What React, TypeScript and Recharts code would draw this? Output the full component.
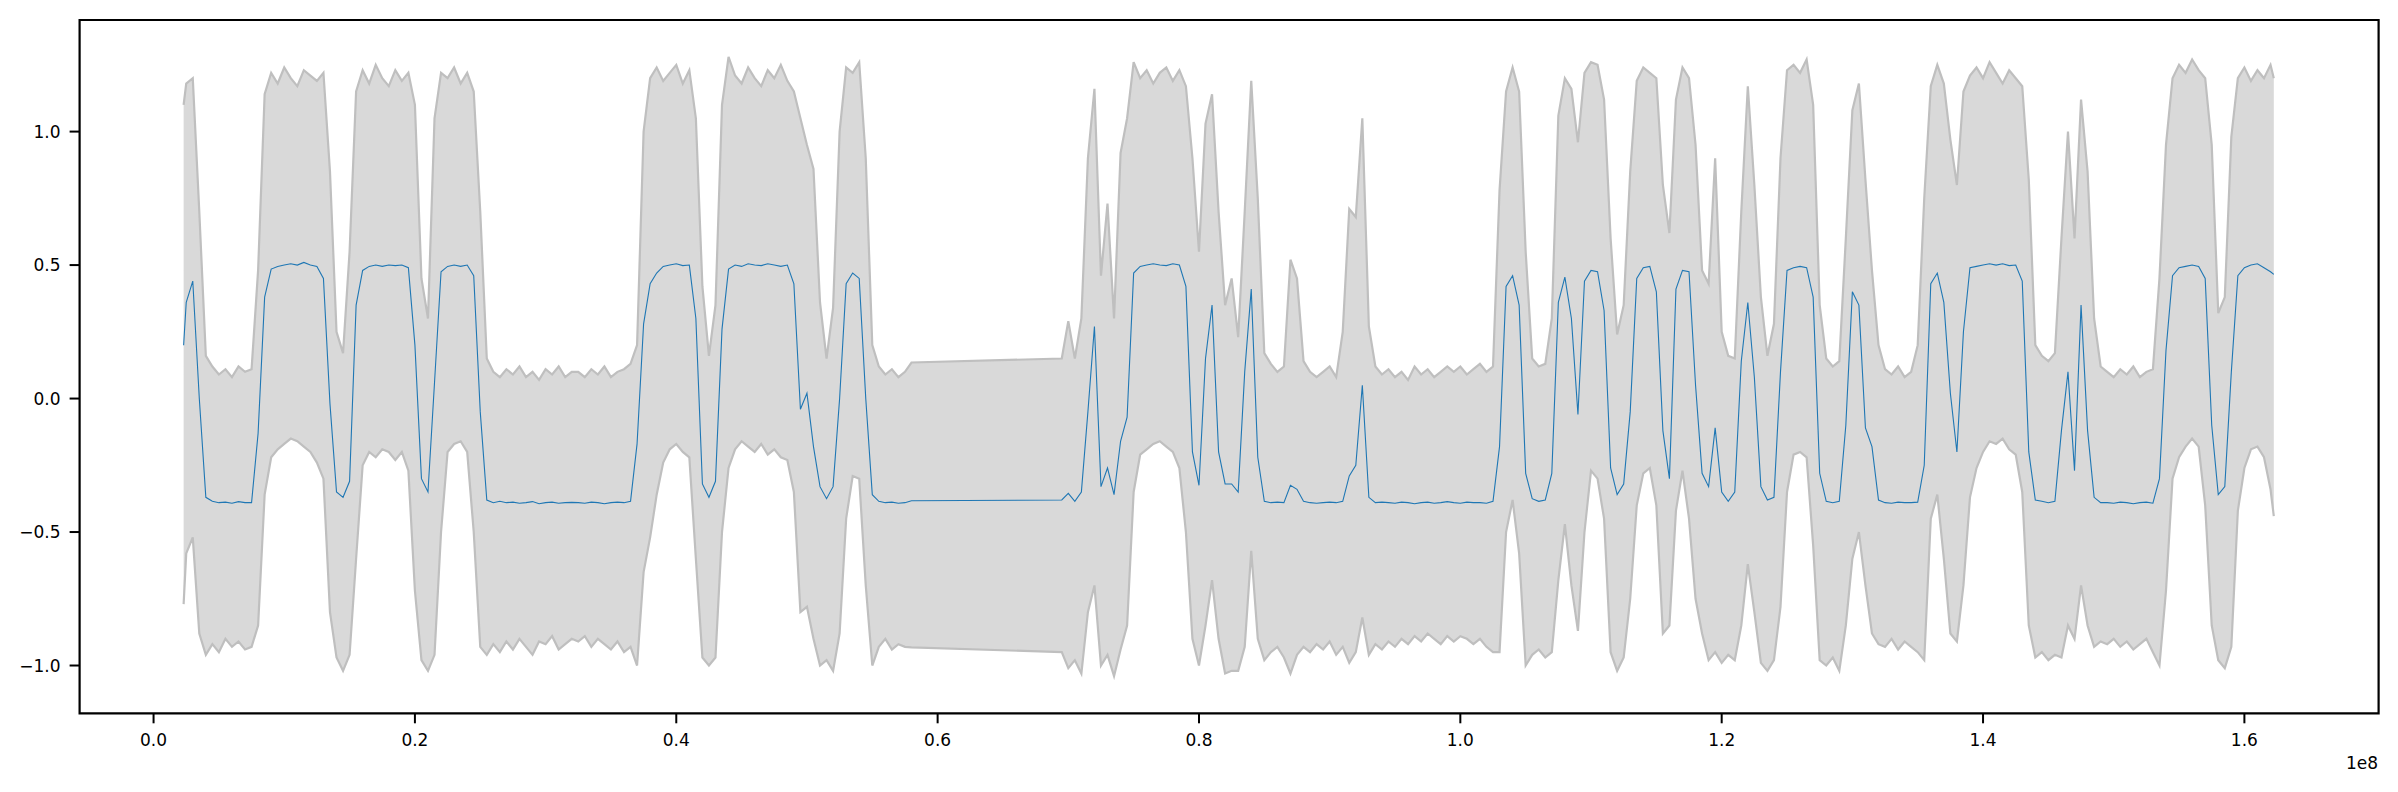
import {
  Area,
  ComposedChart,
  Line,
  ReferenceArea,
  XAxis,
  YAxis,
} from "recharts";

// x positions are in millions; each row holds samples every 0.5M from its start
const ROW_STARTS = [
  2.3, 2.5, 7.5, 12.5, 17.5, 22.5, 27.5, 32.5, 37.5, 42.5, 47.5, 52.5, 57.5,
  69.5, 74.5, 79.5, 84.5, 89.5, 94.5, 99.5, 104.5, 109.5, 114.5, 119.5, 124.5,
  129.5, 134.5, 139.5, 144.5, 149.5, 154.5, 159.5, 162.25,
];
const ROW_STEP = 0.5;

const MEAN = [
  [0.2],
  [0.36, 0.44, 0.0, -0.37, -0.385, -0.39, -0.388, -0.392, -0.386, -0.39],
  [-0.39, -0.13, 0.38, 0.485, 0.495, 0.5, 0.505, 0.5, 0.51, 0.5],
  [0.495, 0.45, -0.02, -0.35, -0.37, -0.31, 0.35, 0.48, 0.495, 0.5],
  [0.495, 0.5, 0.498, 0.5, 0.49, 0.2, -0.3, -0.35, 0.06, 0.475],
  [0.495, 0.5, 0.495, 0.5, 0.46, -0.05, -0.38, -0.39, -0.385, -0.39],
  [-0.388, -0.392, -0.39, -0.386, -0.394, -0.39, -0.388, -0.392, -0.39, -0.389],
  [-0.39, -0.392, -0.388, -0.39, -0.394, -0.39, -0.388, -0.39, -0.385, -0.17],
  [0.28, 0.43, 0.47, 0.495, 0.5, 0.505, 0.498, 0.5, 0.3, -0.32],
  [-0.37, -0.31, 0.26, 0.485, 0.5, 0.495, 0.505, 0.5, 0.498, 0.505],
  [0.5, 0.495, 0.5, 0.43, -0.04, 0.02, -0.18, -0.33, -0.375, -0.33],
  [0.0, 0.43, 0.47, 0.45, 0.0, -0.36, -0.385, -0.39, -0.388, -0.392],
  [-0.39, -0.383],
  [-0.38, -0.355, -0.385, -0.35, -0.05, 0.27, -0.33, -0.26, -0.36, -0.16],
  [-0.07, 0.47, 0.495, 0.5, 0.505, 0.5, 0.498, 0.505, 0.5, 0.42],
  [-0.2, -0.325, 0.15, 0.35, -0.2, -0.32, -0.32, -0.35, 0.1, 0.41],
  [-0.22, -0.385, -0.39, -0.388, -0.39, -0.325, -0.34, -0.385, -0.39, -0.392],
  [-0.39, -0.388, -0.39, -0.385, -0.29, -0.25, 0.05, -0.37, -0.39, -0.388],
  [-0.39, -0.392, -0.388, -0.39, -0.394, -0.39, -0.388, -0.392, -0.39, -0.386],
  [-0.39, -0.392, -0.388, -0.39, -0.39, -0.392, -0.385, -0.18, 0.42, 0.46],
  [0.35, -0.28, -0.375, -0.385, -0.38, -0.28, 0.36, 0.455, 0.3, -0.06],
  [0.44, 0.48, 0.475, 0.33, -0.26, -0.36, -0.32, -0.05, 0.45, 0.49],
  [0.495, 0.4, -0.12, -0.3, 0.41, 0.48, 0.475, 0.05, -0.28, -0.33],
  [-0.11, -0.35, -0.385, -0.35, 0.14, 0.36, 0.08, -0.33, -0.38, -0.37],
  [0.1, 0.48, 0.49, 0.495, 0.49, 0.38, -0.28, -0.385, -0.39, -0.385],
  [-0.1, 0.4, 0.35, -0.11, -0.18, -0.38, -0.39, -0.392, -0.388, -0.39],
  [-0.39, -0.388, -0.25, 0.43, 0.47, 0.36, 0.02, -0.2, 0.25, 0.49],
  [0.495, 0.5, 0.505, 0.5, 0.505, 0.498, 0.5, 0.44, -0.2, -0.38],
  [-0.385, -0.39, -0.385, -0.12, 0.1, -0.27, 0.35, -0.12, -0.37, -0.39],
  [-0.39, -0.392, -0.388, -0.39, -0.394, -0.39, -0.388, -0.392, -0.3, 0.18],
  [0.46, 0.49, 0.495, 0.5, 0.495, 0.45, -0.1, -0.36, -0.33, 0.1],
  [0.46, 0.49, 0.5, 0.505, 0.49, 0.475],
  [0.465],
];

const UPPER = [
  [1.1],
  [1.18, 1.2, 0.7, 0.16, 0.12, 0.09, 0.11, 0.08, 0.12, 0.1],
  [0.11, 0.48, 1.14, 1.22, 1.18, 1.24, 1.2, 1.17, 1.23, 1.21],
  [1.19, 1.22, 0.85, 0.25, 0.17, 0.55, 1.15, 1.23, 1.18, 1.25],
  [1.2, 1.17, 1.23, 1.19, 1.22, 1.1, 0.45, 0.3, 1.05, 1.22],
  [1.2, 1.24, 1.18, 1.22, 1.15, 0.7, 0.15, 0.1, 0.08, 0.11],
  [0.09, 0.12, 0.08, 0.1, 0.07, 0.11, 0.09, 0.12, 0.08, 0.1],
  [0.1, 0.08, 0.11, 0.09, 0.12, 0.08, 0.1, 0.11, 0.13, 0.2],
  [1.0, 1.2, 1.24, 1.19, 1.22, 1.25, 1.18, 1.23, 1.05, 0.42],
  [0.16, 0.35, 1.1, 1.28, 1.21, 1.18, 1.24, 1.2, 1.17, 1.23],
  [1.2, 1.25, 1.19, 1.15, 1.05, 0.95, 0.86, 0.36, 0.15, 0.34],
  [1.0, 1.24, 1.22, 1.26, 0.9, 0.2, 0.12, 0.09, 0.11, 0.08],
  [0.1, 0.135],
  [0.15, 0.29, 0.15, 0.3, 0.9, 1.16, 0.46, 0.73, 0.3, 0.92],
  [1.05, 1.26, 1.2, 1.23, 1.18, 1.22, 1.24, 1.19, 1.23, 1.17],
  [0.9, 0.55, 1.03, 1.14, 0.7, 0.35, 0.45, 0.23, 0.7, 1.19],
  [0.75, 0.17, 0.13, 0.1, 0.12, 0.52, 0.45, 0.14, 0.1, 0.08],
  [0.1, 0.12, 0.08, 0.25, 0.71, 0.68, 1.05, 0.27, 0.12, 0.09],
  [0.11, 0.08, 0.1, 0.07, 0.12, 0.09, 0.11, 0.08, 0.1, 0.12],
  [0.1, 0.12, 0.09, 0.11, 0.13, 0.1, 0.12, 0.78, 1.15, 1.24],
  [1.15, 0.55, 0.15, 0.12, 0.13, 0.3, 1.06, 1.2, 1.16, 0.96],
  [1.22, 1.26, 1.25, 1.12, 0.6, 0.24, 0.35, 0.85, 1.19, 1.24],
  [1.22, 1.2, 0.8, 0.62, 1.12, 1.24, 1.2, 0.95, 0.48, 0.43],
  [0.9, 0.25, 0.16, 0.15, 0.7, 1.17, 0.8, 0.38, 0.16, 0.28],
  [0.9, 1.23, 1.25, 1.22, 1.27, 1.1, 0.35, 0.15, 0.12, 0.14],
  [0.6, 1.08, 1.18, 0.82, 0.48, 0.2, 0.11, 0.09, 0.12, 0.08],
  [0.1, 0.2, 0.75, 1.17, 1.25, 1.18, 0.97, 0.8, 1.15, 1.21],
  [1.24, 1.2, 1.26, 1.22, 1.18, 1.23, 1.2, 1.17, 0.82, 0.2],
  [0.16, 0.14, 0.17, 0.6, 1.0, 0.6, 1.12, 0.85, 0.3, 0.12],
  [0.1, 0.08, 0.11, 0.09, 0.12, 0.08, 0.1, 0.11, 0.45, 0.95],
  [1.2, 1.25, 1.22, 1.27, 1.23, 1.2, 0.95, 0.32, 0.38, 0.98],
  [1.2, 1.24, 1.19, 1.23, 1.2, 1.25],
  [1.2],
];

const LOWER = [
  [-0.77],
  [-0.58, -0.52, -0.88, -0.96, -0.92, -0.95, -0.9, -0.93, -0.91, -0.94],
  [-0.93, -0.85, -0.36, -0.22, -0.19, -0.17, -0.15, -0.16, -0.18, -0.2],
  [-0.24, -0.3, -0.8, -0.97, -1.02, -0.96, -0.6, -0.25, -0.2, -0.22],
  [-0.19, -0.2, -0.23, -0.2, -0.27, -0.72, -0.98, -1.02, -0.96, -0.5],
  [-0.2, -0.17, -0.16, -0.2, -0.5, -0.93, -0.96, -0.92, -0.95, -0.91],
  [-0.94, -0.9, -0.93, -0.96, -0.91, -0.92, -0.89, -0.94, -0.92, -0.9],
  [-0.91, -0.89, -0.93, -0.9, -0.92, -0.94, -0.91, -0.95, -0.93, -1.0],
  [-0.65, -0.52, -0.36, -0.24, -0.19, -0.17, -0.2, -0.22, -0.6, -0.97],
  [-1.0, -0.97, -0.5, -0.26, -0.19, -0.16, -0.18, -0.2, -0.17, -0.21],
  [-0.19, -0.22, -0.23, -0.35, -0.8, -0.78, -0.9, -1.0, -0.98, -1.02],
  [-0.88, -0.45, -0.29, -0.3, -0.7, -1.0, -0.93, -0.9, -0.94, -0.92],
  [-0.93, -0.932],
  [-0.95, -1.01, -0.98, -1.03, -0.8, -0.7, -1.0, -0.96, -1.04, -0.94],
  [-0.85, -0.35, -0.21, -0.19, -0.17, -0.16, -0.18, -0.2, -0.26, -0.5],
  [-0.9, -1.0, -0.85, -0.68, -0.9, -1.03, -1.02, -1.02, -0.93, -0.57],
  [-0.9, -0.98, -0.95, -0.93, -0.97, -1.03, -0.96, -0.93, -0.95, -0.92],
  [-0.94, -0.91, -0.96, -0.93, -0.99, -0.95, -0.82, -0.96, -0.92, -0.94],
  [-0.91, -0.93, -0.9, -0.92, -0.89, -0.91, -0.88, -0.9, -0.92, -0.89],
  [-0.91, -0.89, -0.9, -0.92, -0.9, -0.93, -0.95, -0.95, -0.5, -0.38],
  [-0.58, -1.0, -0.96, -0.94, -0.97, -0.95, -0.68, -0.47, -0.7, -0.87],
  [-0.5, -0.27, -0.3, -0.45, -0.95, -1.02, -0.97, -0.75, -0.4, -0.28],
  [-0.26, -0.4, -0.88, -0.85, -0.42, -0.27, -0.45, -0.75, -0.88, -0.98],
  [-0.95, -0.99, -0.96, -0.98, -0.85, -0.62, -0.8, -0.99, -1.02, -0.98],
  [-0.78, -0.35, -0.21, -0.2, -0.22, -0.55, -0.98, -1.0, -0.97, -1.02],
  [-0.85, -0.6, -0.5, -0.7, -0.88, -0.92, -0.93, -0.9, -0.94, -0.91],
  [-0.93, -0.95, -0.98, -0.45, -0.36, -0.6, -0.88, -0.91, -0.7, -0.37],
  [-0.26, -0.2, -0.16, -0.17, -0.15, -0.19, -0.21, -0.35, -0.85, -0.97],
  [-0.95, -0.98, -0.96, -0.97, -0.85, -0.9, -0.7, -0.85, -0.93, -0.91],
  [-0.92, -0.9, -0.93, -0.91, -0.94, -0.92, -0.9, -0.95, -1.0, -0.72],
  [-0.3, -0.22, -0.18, -0.15, -0.18, -0.4, -0.85, -0.98, -1.01, -0.93],
  [-0.42, -0.26, -0.19, -0.18, -0.22, -0.34],
  [-0.44],
];

const X_TICKS = [0, 2e7, 4e7, 6e7, 8e7, 1e8, 1.2e8, 1.4e8, 1.6e8];
const Y_TICKS = [-1, -0.5, 0, 0.5, 1];
const X_DOMAIN: [number, number] = [-5.66e6, 170.27e6];
const Y_DOMAIN: [number, number] = [-1.179, 1.418];

const W = 2398;
const H = 792;
const FONT = "DejaVu Sans, sans-serif";

const rows: { x: number; band: [number, number]; mean: number }[] = [];
ROW_STARTS.forEach((start, r) => {
  MEAN[r].forEach((m, j) => {
    rows.push({
      x: (start + j * ROW_STEP) * 1e6,
      band: [LOWER[r][j], UPPER[r][j]],
      mean: m,
    });
  });
});

const fmtY = (v: number) => v.toFixed(1).replace("-", "\u2212");
const fmtX = (v: number) => (v / 1e8).toFixed(1);

const tickStyle = { fill: "#000", fontSize: 17, fontFamily: FONT };

export default function App() {
  return (
    <div
      style={{
        position: "absolute",
        left: 0,
        top: 0,
        width: W,
        height: H,
        background: "#fff",
      }}
    >
      <ComposedChart
        width={W}
        height={H}
        data={rows}
        margin={{ top: 20, right: 19.4, left: 9.6, bottom: 38.7 }}
      >
        <XAxis
          dataKey="x"
          type="number"
          domain={X_DOMAIN}
          allowDataOverflow
          ticks={X_TICKS}
          tickFormatter={fmtX}
          height={40}
          axisLine={false}
          tickLine={{ stroke: "#000", strokeWidth: 2 }}
          tickSize={10}
          tickMargin={11}
          tick={tickStyle}
        />
        <YAxis
          type="number"
          domain={Y_DOMAIN}
          allowDataOverflow
          ticks={Y_TICKS}
          tickFormatter={fmtY}
          width={70}
          axisLine={false}
          tickLine={{ stroke: "#000", strokeWidth: 2 }}
          tickSize={10}
          tickMargin={9}
          tick={tickStyle}
        />
        <Area
          dataKey="band"
          type="linear"
          stroke="#bfbfbf"
          strokeWidth={2.2}
          fill="#d9d9d9"
          fillOpacity={1}
          dot={false}
          activeDot={false}
          isAnimationActive={false}
        />
        <Line
          dataKey="mean"
          type="linear"
          stroke="#1f77b4"
          strokeWidth={1.1}
          dot={false}
          activeDot={false}
          isAnimationActive={false}
        />
        <ReferenceArea
          x1={X_DOMAIN[0]}
          x2={X_DOMAIN[1]}
          y1={Y_DOMAIN[0]}
          y2={Y_DOMAIN[1]}
          fill="none"
          stroke="#000"
          strokeWidth={2.2}
          ifOverflow="visible"
        />
      </ComposedChart>
      <svg
        width={W}
        height={H}
        style={{ position: "absolute", left: 0, top: 0, pointerEvents: "none" }}
      >
        <text x={2378} y={769} textAnchor="end" fontSize={17} fontFamily={FONT} fill="#000">
          1e8
        </text>
      </svg>
    </div>
  );
}
